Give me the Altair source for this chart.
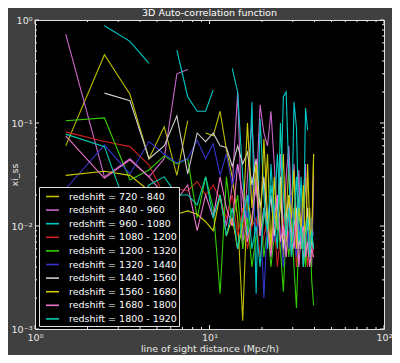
import altair as alt
import pandas as pd

distance = [1.5, 2.5, 3.5, 4.5, 5.5, 6.5, 7.5, 8.5, 9.5, 10.5,
            11.5, 12.5, 13.5, 14.5, 15.5, 16.5, 17.5, 18.5, 19.5, 20.5,
            21.5, 22.5, 23.5, 24.5, 25.5, 26.5, 27.5, 28.5, 29.5, 30.5,
            31.5, 32.5, 33.5, 34.5, 35.5, 36.5, 37.5, 38.5, 39.5]

labels = ["redshift = 720 - 840", "redshift = 840 - 960", "redshift = 960 - 1080",
          "redshift = 1080 - 1200", "redshift = 1200 - 1320", "redshift = 1320 - 1440",
          "redshift = 1440 - 1560", "redshift = 1560 - 1680", "redshift = 1680 - 1800",
          "redshift = 1800 - 1920"]
colors = ["#bfbf00", "#cc66cc", "#00c8c8", "#cc2020", "#33cc00", "#3333cc",
          "#cccccc", "#cccc00", "#ee77cc", "#00ccb0"]

s720 = [0.06, 0.46, 0.19, 0.045, 0.092, 0.031, 0.105, None, 0.08, 0.075,
        0.13, 0.055, 0.03, 0.012, 0.0012, 0.02, 0.01, 0.03, 0.008, 0.012,
        0.05, 0.006, 0.015, 0.009, 0.025, 0.005, 0.012, 0.04, 0.007, 0.015,
        0.008, 0.02, 0.006, 0.012, 0.03, 0.008, 0.015, 0.005, 0.05]
s840 = [0.73, 0.03, 0.045, 0.03, 0.045, 0.3, 0.33, None, None, 0.012,
        0.02, 0.01, 0.025, 0.2, 0.006, 0.03, 0.1, 0.02, 0.15, 0.08,
        0.06, 0.13, 0.04, 0.012, 0.05, 0.008, 0.03, 0.06, 0.015, 0.04,
        0.01, 0.035, 0.006, 0.02, 0.04, 0.008, 0.012, 0.004, 0.03]
s960 = [None, 0.88, 0.62, 0.38, None, 0.51, 0.18, 0.13, 0.13, 0.21,
        None, None, 0.34, 0.2, 0.03, 0.008, 0.16, 0.0022, 0.11, 0.02,
        0.006, 0.04, 0.012, 0.05, 0.015, 0.18, 0.2, 0.03, 0.008, 0.16,
        0.09, 0.01, 0.03, 0.006, 0.14, 0.085, None, None, None]
s1080 = [0.082, 0.066, 0.059, 0.039, 0.02, 0.023, 0.022, 0.027, 0.02, 0.025,
         0.018, 0.012, 0.02, 0.008, 0.015, 0.006, 0.01, 0.012, 0.005, 0.008,
         0.012, 0.006, 0.01, 0.004, 0.008, 0.012, 0.005, 0.009, 0.006, 0.011,
         0.004, 0.008, 0.01, 0.005, 0.007, 0.004, 0.009, 0.005, 0.006]
s1200 = [0.105, 0.112, 0.028, 0.035, 0.048, 0.04, 0.045, 0.012, 0.03, 0.015,
         0.0022, 0.03, 0.01, 0.02, 0.006, 0.012, 0.004, 0.008, 0.015, 0.005,
         0.01, 0.004, 0.008, 0.012, 0.006, 0.0023, 0.009, 0.005, 0.012, 0.004,
         0.0016, 0.008, 0.006, 0.01, 0.004, 0.007, 0.012, 0.003, 0.0017]
s1320 = [0.023, 0.061, 0.032, 0.066, 0.05, 0.041, 0.045, 0.068, 0.045, 0.063,
         0.031, 0.05, 0.025, 0.04, 0.02, 0.012, 0.03, 0.008, 0.015, 0.002,
         0.012, 0.02, 0.007, 0.015, 0.009, 0.004, 0.012, 0.006, 0.02, 0.008,
         0.005, 0.011, 0.007, 0.015, 0.005, 0.009, 0.006, 0.012, 0.008]
s1440 = [None, 0.195, 0.165, 0.045, 0.06, 0.117, 0.032, 0.08, 0.066, 0.08,
         0.06, 0.058, 0.038, 0.06, 0.04, 0.052, 0.025, 0.045, 0.015, 0.03,
         0.01, 0.02, 0.008, 0.015, 0.03, 0.006, 0.012, 0.02, 0.005, 0.01,
         0.015, 0.006, 0.012, 0.004, 0.009, 0.015, 0.005, 0.008, 0.006]
s1560 = [0.031, 0.034, 0.031, 0.022, 0.016, 0.013, 0.014, 0.013, 0.011, 0.009,
         0.02, 0.008, 0.012, 0.006, 0.01, 0.1, 0.015, 0.04, 0.008, 0.07,
         0.012, 0.006, 0.03, 0.009, 0.015, 0.05, 0.007, 0.02, 0.012, 0.035,
         0.006, 0.015, 0.009, 0.025, 0.005, 0.04, 0.01, 0.007, 0.05]
s1680 = [0.075, 0.029, 0.044, 0.03, 0.02, 0.018, 0.025, 0.009, 0.02, 0.012,
         0.03, 0.015, 0.01, 0.04, 0.02, 0.007, 0.012, 0.025, 0.008, 0.015,
         0.01, 0.005, 0.012, 0.02, 0.007, 0.01, 0.005, 0.015, 0.009, 0.006,
         0.012, 0.004, 0.008, 0.01, 0.005, 0.007, 0.004, 0.006, 0.005]
s1800 = [0.078, 0.059, 0.012, 0.025, 0.03, 0.02, 0.02, 0.016, 0.03, 0.012,
         0.02, 0.008, 0.015, 0.006, 0.012, 0.02, 0.006, 0.01, 0.004, 0.015,
         0.009, 0.025, 0.012, 0.006, 0.1, 0.02, 0.008, 0.015, 0.005, 0.012,
         0.03, 0.007, 0.01, 0.004, 0.008, 0.012, 0.005, 0.009, 0.006]

series = [s720, s840, s960, s1080, s1200, s1320, s1440, s1560, s1680, s1800]

x_major = [1, 10, 100]
x_minor = [2, 3, 4, 5, 6, 7, 8, 9, 20, 30, 40, 50, 60, 70, 80, 90]
y_major = [0.001, 0.01, 0.1, 1]
y_minor = [0.002, 0.003, 0.004, 0.005, 0.006, 0.007, 0.008, 0.009,
           0.02, 0.03, 0.04, 0.05, 0.06, 0.07, 0.08, 0.09,
           0.2, 0.3, 0.4, 0.5, 0.6, 0.7, 0.8, 0.9]

rows = []
for lab, vals in zip(labels, series):
    assert len(vals) == len(distance)
    for d, v in zip(distance, vals):
        rows.append({"distance": d, "xi": v, "bin": lab})
df = pd.DataFrame(rows)

W, H = 349, 309
FONT = "DejaVu Sans"
TXT = "#e8e8e8"

sup = {0: "10⁰", 1: "10¹", 2: "10²", -1: "10⁻¹", -2: "10⁻²", -3: "10⁻³"}
e = "round(log(datum.value)/LN10)"
expr = "''"
for k, s in sup.items():
    expr = f"{e} == {k} ? '{s}' : " + "(" + expr + ")"

xscale = alt.Scale(type="log", domain=[1, 100], nice=False)
yscale = alt.Scale(type="log", domain=[0.001, 1], nice=False)

xaxis = alt.Axis(values=x_major, labelExpr=expr, ticks=False, domain=False, grid=False,
                 labelColor=TXT, labelFont=FONT, labelFontSize=9.5, labelPadding=3,
                 labelFlush=False,
                 title="line of sight distance (Mpc/h)", titleColor=TXT, titleFont=FONT,
                 titleFontSize=9.5, titleFontWeight="normal", titlePadding=2)
yaxis = alt.Axis(values=y_major, labelExpr=expr, ticks=False, domain=False, grid=False,
                 labelColor=TXT, labelFont=FONT, labelFontSize=9.5, labelPadding=3,
                 labelFlush=False,
                 title="xi_ss", titleColor=TXT, titleFont=FONT,
                 titleFontSize=9.5, titleFontWeight="normal",
                 titleX=-21, titleY=H / 2, titleBaseline="middle", titleAngle=270)

lines = alt.Chart(df).mark_line(strokeWidth=1.1, clip=True).encode(
    x=alt.X("distance:Q", scale=xscale, axis=xaxis),
    y=alt.Y("xi:Q", scale=yscale, axis=yaxis),
    color=alt.Color("bin:N", scale=alt.Scale(domain=labels, range=colors), sort=labels,
                    legend=alt.Legend(orient="none", legendX=4, legendY=H - 3 - 139, title=None,
                                      fillColor="black", strokeColor="#e0e0e0", padding=2,
                                      symbolOffset=4,
                                      symbolType="stroke", symbolSize=169, symbolStrokeWidth=1.6,
                                      labelColor="white", labelFont=FONT, labelFontSize=9.5,
                                      rowPadding=1.6, labelOffset=9, symbolLimit=0,
                                      labelLimit=300)),
    detail="bin:N",
)

TICK = "#e8e8e8"

def xticks(vals, L):
    d = pd.DataFrame({"t": vals})
    b = alt.Chart(d).mark_rule(color=TICK, strokeWidth=1).encode(
        x=alt.X("t:Q", scale=xscale, axis=xaxis), y=alt.value(H), y2=alt.value(H - L))
    t = alt.Chart(d).mark_rule(color=TICK, strokeWidth=1).encode(
        x=alt.X("t:Q", scale=xscale, axis=xaxis), y=alt.value(0), y2=alt.value(L))
    return b + t

def yticks(vals, L):
    d = pd.DataFrame({"t": vals})
    l = alt.Chart(d).mark_rule(color=TICK, strokeWidth=1).encode(
        y=alt.Y("t:Q", scale=yscale, axis=yaxis), x=alt.value(0), x2=alt.value(L))
    r = alt.Chart(d).mark_rule(color=TICK, strokeWidth=1).encode(
        y=alt.Y("t:Q", scale=yscale, axis=yaxis), x=alt.value(W), x2=alt.value(W - L))
    return l + r

chart = alt.layer(
    lines,
    xticks(x_major, 4), xticks(x_minor, 2),
    yticks(y_major, 4), yticks(y_minor, 2),
).properties(
    width=W, height=H,
    title=alt.TitleParams("3D Auto-correlation function", color="white", font=FONT,
                          fontSize=9.5, fontWeight="normal", offset=0, dy=2,
                          anchor="middle"),
    autosize=alt.AutoSizeParams(type="none"),
    padding={"left": 27, "top": 12, "right": 8, "bottom": 26},
    background="#404040",
).configure_view(fill="black", stroke="#e0e0e0", strokeWidth=1)

chart.save("out.html", embed_options={"renderer": "svg", "actions": False})
